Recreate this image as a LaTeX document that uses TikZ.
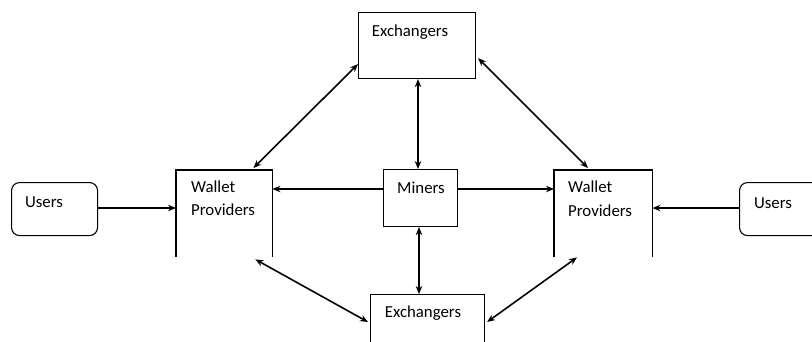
\documentclass[tikz,border=0pt]{standalone}
\usepackage{fontspec}
\setmainfont{Carlito}
\usetikzlibrary{arrows.meta,calc}
\begin{document}
\begin{tikzpicture}[x=1pt,y=-1pt,
  box/.style={draw,line width=1.1pt,inner sep=0pt,anchor=north west},
  ubox/.style={box,rounded corners=8pt},
  lbl/.style={font=\fontsize{16.8}{22}\selectfont,inner sep=0pt,anchor=base},
  wlbl/.style={font=\fontsize{16.8}{22}\selectfont,inner sep=0pt,anchor=base west},
  conn/.style={line width=1.6pt,-{Stealth[length=8pt,width=6.5pt]}},
  biconn/.style={line width=1.6pt,{Stealth[length=8pt,width=6.5pt]}-{Stealth[length=8pt,width=6.5pt]}},
  ]
\useasboundingbox (0,0) rectangle (812,341);
% boxes
\node[box,minimum width=117pt,minimum height=66pt] (te) at (358,12) {};
\node[box,minimum width=74pt,minimum height=57pt] (mi) at (383,169) {};
\node[box,minimum width=114pt,minimum height=60pt] (be) at (370,294) {};
\node[ubox,minimum width=86pt,minimum height=53pt] (ul) at (11,182) {};
\node[ubox,minimum width=100pt,minimum height=53pt] (ur) at (739,182) {};
\node[inner sep=0pt,minimum width=96pt,minimum height=87pt,anchor=north west] (wl) at (176,170) {};
\node[inner sep=0pt,minimum width=98pt,minimum height=87pt,anchor=north west] (wr) at (554,170) {};
\draw[line width=1.1pt] (wl.south west) -- (wl.north west) -- (wl.north east) -- (wl.south east);
\draw[line width=1.1pt] (wr.south west) -- (wr.north west) -- (wr.north east) -- (wr.south east);
% texts
\node[lbl] (tet) at (410,36) {Exchangers};
\node[lbl] (mit) at (421,193) {Miners};
\node[lbl] (bet) at (423,317) {Exchangers};
\node[lbl] (ult) at (44,207) {Users};
\node[lbl] (urt) at (773,208) {Users};
\node[wlbl] (wlt1) at (191,192) {Wallet};
\node[wlbl] (wlt2) at (191,215) {Providers};
\node[wlbl] (wrt1) at (568,192) {Wallet};
\node[wlbl] (wrt2) at (568,216) {Providers};
% connectors
\draw[conn] (ul.east |- 0,208) -- (wl.west |- 0,208);
\draw[conn] (ur.west |- 0,208) -- (wr.east |- 0,208);
\draw[conn] (mi.west |- 0,189) -- (wl.east |- 0,189);
\draw[conn] (mi.east |- 0,189) -- (wr.west |- 0,189);
\draw[biconn] (te.south -| 418,0) -- (mi.north -| 418,0);
\draw[biconn] (mi.south -| 419,0) -- (be.north -| 419,0);
\draw[biconn] ($(te.south west)+(0,-15)$) -- ($(wl.north east)+(-19,-2)$);
\draw[biconn] ($(te.south east)+(2,-21)$) -- ($(wr.north west)+(34,-2)$);
\draw[biconn] ($(wl.south east)+(-17,2)$) -- ($(be.north west)+(-2,28)$);
\draw[biconn] ($(wr.south west)+(23,0)$) -- ($(be.north east)+(2,28)$);
\end{tikzpicture}
\end{document}
